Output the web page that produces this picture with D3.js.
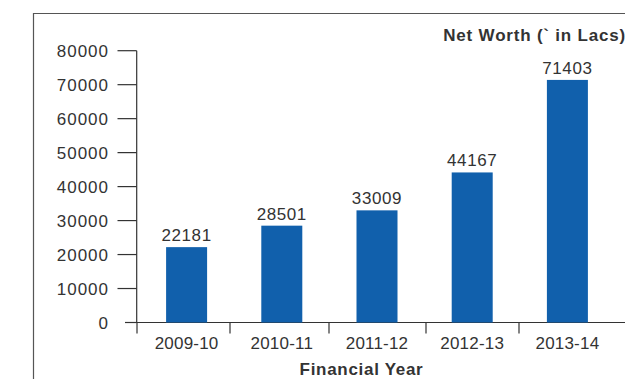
<!DOCTYPE html>
<html>
<head>
<meta charset="utf-8">
<script src="https://cdn.jsdelivr.net/npm/d3@7"></script>
<style>
  html, body { margin: 0; padding: 0; background: #fff; }
  svg { display: block; }
  text { font-family: "Liberation Sans", Arial, Helvetica, sans-serif; fill: #333; }
</style>
</head>
<body>
<svg id="chart" width="625" height="379"></svg>
<script>
// Net worth by financial year (Rs. in Lacs)
const years = ["2009-10", "2010-11", "2011-12", "2012-13", "2013-14"];
const netWorth = [22181, 28501, 33009, 44167, 71403];
const yTicks = [0, 10000, 20000, 30000, 40000, 50000, 60000, 70000, 80000];
const chartTitle = "Net Worth (`  in Lacs)";
const xTitle = "Financial Year";

const svg = d3.select("#chart");
const axisColor = "#333";
const barColor = "#1160ac";

// frame around the chart
svg.append("path")
  .attr("d", "M33.5,379 V13.5 H625")
  .attr("fill", "none")
  .attr("stroke", "#555")
  .attr("stroke-width", 1.2);

const x = d3.scaleBand().domain(years).range([137, 613]).paddingInner(0).paddingOuter(0);
const y = d3.scaleLinear().domain([0, 80000]).range([322.5, 50.7]);

// y axis
const yAxis = svg.append("g");
yAxis.append("line")
  .attr("x1", 136.7).attr("x2", 136.7)
  .attr("y1", y(80000)).attr("y2", y(0))
  .attr("stroke", axisColor).attr("stroke-width", 1.2);
yAxis.selectAll("line.tick").data(yTicks).join("line")
  .attr("class", "tick")
  .attr("x1", d => d === 0 ? 125 : 117.5).attr("x2", 136.7)
  .attr("y1", d => y(d)).attr("y2", d => y(d))
  .attr("stroke", axisColor).attr("stroke-width", 1.2);
yAxis.selectAll("text").data(yTicks).join("text")
  .attr("x", 109).attr("y", d => y(d) + 6)
  .attr("text-anchor", "end")
  .attr("font-size", 17)
  .attr("letter-spacing", 1)
  .text(d => d);

// x axis
const xAxis = svg.append("g");
xAxis.append("line")
  .attr("x1", 125).attr("x2", 625)
  .attr("y1", y(0)).attr("y2", y(0))
  .attr("stroke", axisColor).attr("stroke-width", 1.2);
const tickXs = [137, 230, 329, 426, 519];
xAxis.selectAll("line.tick").data(tickXs).join("line")
  .attr("class", "tick")
  .attr("x1", d => d).attr("x2", d => d)
  .attr("y1", y(0)).attr("y2", y(0) + 11)
  .attr("stroke", axisColor).attr("stroke-width", 1.2);
xAxis.selectAll("text").data(years).join("text")
  .attr("x", d => x(d) + x.bandwidth() / 2 + 2)
  .attr("y", 349)
  .attr("text-anchor", "middle")
  .attr("font-size", 17)
  .attr("letter-spacing", 0.2)
  .text(d => d);

// bars
const barW = 41;
svg.append("g").selectAll("rect").data(years).join("rect")
  .attr("x", d => x(d) + x.bandwidth() / 2 + 2 - barW / 2)
  .attr("width", barW)
  .attr("y", (d, i) => y(netWorth[i]))
  .attr("height", (d, i) => y(0) - y(netWorth[i]))
  .attr("fill", barColor);

// value labels
svg.append("g").selectAll("text").data(years).join("text")
  .attr("x", d => x(d) + x.bandwidth() / 2 + 2)
  .attr("y", (d, i) => y(netWorth[i]) - 6)
  .attr("text-anchor", "middle")
  .attr("font-size", 17)
  .attr("letter-spacing", 0.6)
  .text((d, i) => netWorth[i]);

// titles
svg.append("text")
  .attr("x", 626).attr("y", 41)
  .attr("text-anchor", "end")
  .attr("font-size", 17)
  .attr("font-weight", "bold")
  .attr("letter-spacing", 0.8)
  .text(chartTitle);

svg.append("text")
  .attr("x", 361.5).attr("y", 375)
  .attr("text-anchor", "middle")
  .attr("font-size", 17)
  .attr("font-weight", "bold")
  .attr("letter-spacing", 0.7)
  .text(xTitle);
</script>
</body>
</html>
